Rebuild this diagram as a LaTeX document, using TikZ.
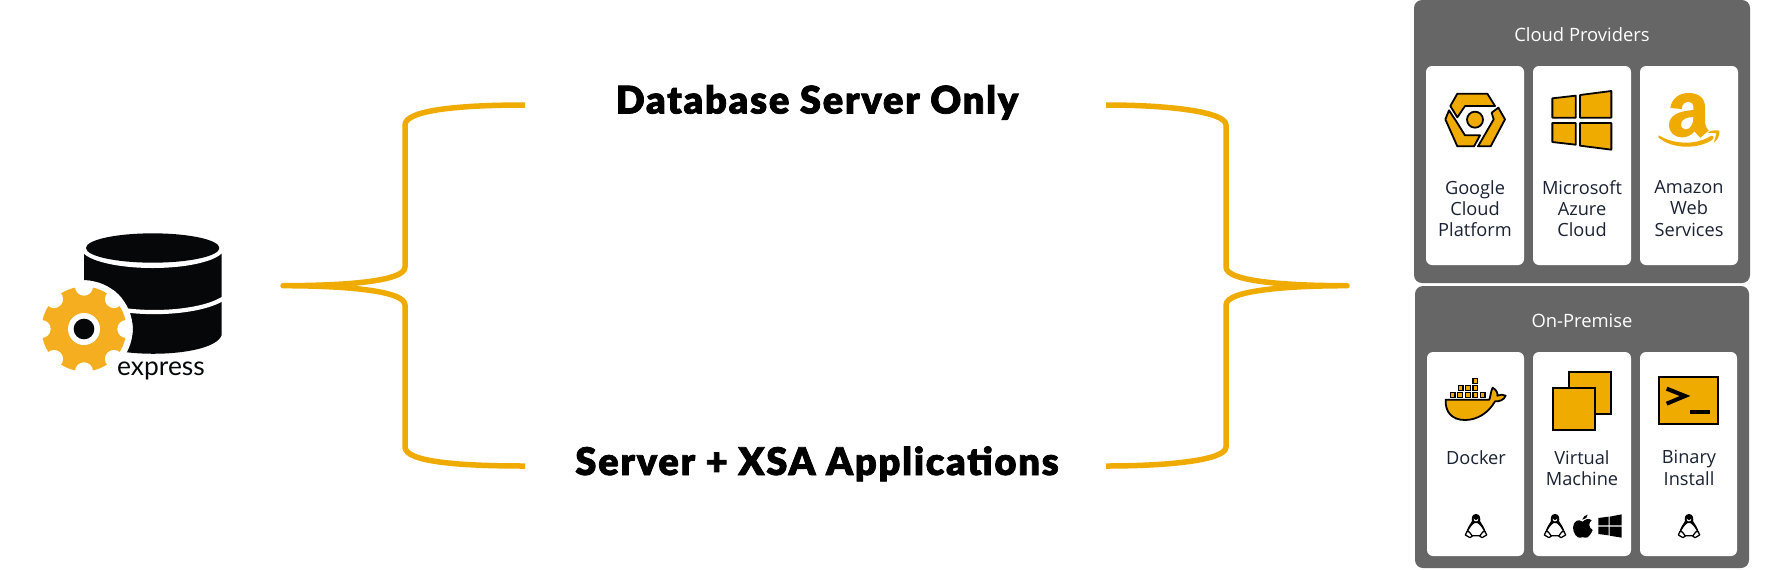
\documentclass[tikz,border=0pt]{standalone}
\usepackage{fontspec}
\setmainfont{Open Sans}
\newfontfamily\heavy[FakeBold=2,LetterSpace=4.7]{Lato Black}
\newfontfamily\logofont{Lato}
\definecolor{sapgold}{HTML}{F0AB00}
\definecolor{gearorange}{HTML}{F5AE20}
\definecolor{panelgrey}{HTML}{666666}
\definecolor{inkblack}{HTML}{050708}
\definecolor{labelink}{HTML}{1A2233}
\tikzset{
  x=0.5pt,y=-0.5pt,
  bracestroke/.style={draw=sapgold,line width=2.75pt,line join=round,line cap=butt},
  panel/.style={fill=panelgrey,rounded corners=4pt},
  card/.style={fill=white,rounded corners=3pt},
  paneltitle/.style={text=white,font=\fontsize{9.2}{11}\selectfont,anchor=center,inner sep=0pt},
  cardlabel/.style={text=labelink,font=\fontsize{9.1}{10.65}\selectfont,align=center,anchor=north,inner sep=0pt},
  headline/.style={font=\heavy\fontsize{19}{22}\selectfont,anchor=base,inner sep=0pt,text=black},
  goldicon/.style={fill=sapgold,draw=black,line width=0.9pt,line join=round},
  zoomA/.style={shift={(1400,0)},x=0.16667pt,y=-0.16667pt},
  zoomB/.style={shift={(1400,285)},x=0.16667pt,y=-0.16667pt},
  zoomC/.style={shift={(30,220)},x=0.16667pt,y=-0.16667pt},
  mini/.style={x=0.16667pt,y=-0.16667pt},
}
\newcommand{\tux}[2]{%
\begin{scope}[shift={(#1,#2)},mini]
  \fill[white,draw=black,line width=0.65pt,line join=round]
    (-10,-14) .. controls (-22,5) and (-32,18) .. (-24,29) -- (24,29)
    .. controls (32,18) and (22,5) .. (10,-14) -- cycle;
  \fill[black] (0,-36) .. controls (-13,-36) and (-14,-22) .. (-12,-12)
    .. controls (-20,-2) and (-27,8) .. (-25,18) .. controls (-19,6) and (-12,-4) .. (-4,-9)
    -- (4,-9) .. controls (12,-4) and (19,6) .. (25,18) .. controls (27,8) and (20,-2) .. (12,-12)
    .. controls (14,-22) and (13,-36) .. (0,-36) -- cycle;
  \fill[white] (-7,-22) .. controls (-3,-15) and (3,-15) .. (7,-22) .. controls (7,-11) and (-7,-11) .. (-7,-22) -- cycle;
  \fill[white,draw=black,line width=0.65pt,line join=round]
    (-32,27) -- (-27,16) -- (-20,18) -- (-11,30) -- (-18,35) -- cycle;
  \fill[white,draw=black,line width=0.65pt,line join=round]
    (32,27) -- (27,16) -- (20,18) -- (11,30) -- (18,35) -- cycle;
\end{scope}}
\begin{document}
\begin{tikzpicture}
\useasboundingbox (0,0) rectangle (1790,569);
\fill[white] (0,0) rectangle (1790,569);

% --- express database icon
\begin{scope}[zoomC]
  \fill[inkblack] (162,95) -- (162,345) .. controls (190,420) and (550,420) .. (575,345) -- (575,95) -- cycle;
  \fill[white] (368,84) ellipse[x radius=215,y radius=60];
  \fill[inkblack] (368,84) ellipse[x radius=200,y radius=44];
  \draw[white,line width=2.1pt] (150,225) .. controls (230,292) and (500,292) .. (585,232);
  \fill[white] (162,327) circle[radius=146];
  \fill[gearorange] (162,327) circle[radius=127];
  \begin{scope}
    \clip (162,327) circle[radius=146];
    \foreach \a in {0,45,...,315}
      \fill[white] (162,327) ++(\a:127) circle[radius=27];
  \end{scope}
  \fill[white] (162,327) circle[radius=48];
  \fill[inkblack] (162,327) circle[radius=31];
\end{scope}
\node[font=\logofont\fontsize{13.2}{15}\selectfont,text=inkblack,anchor=base,inner sep=0pt] (expresslabel) at (161,375) {express};

% --- headlines
\node[headline] (dbonly) at (817,113.5) {Database Server Only};
\node[headline] (xsa) at (817,475) {Server + XSA Applications};

% --- braces
\coordinate (ltip) at (283,285.7);
\coordinate (lhi) at (525,105);
\coordinate (llo) at (525,466);
\coordinate (rtip) at (1347,285.7);
\coordinate (rhi) at (1106,105);
\coordinate (rlo) at (1106,466);
\draw[bracestroke] (lhi) .. controls (460,105) and (405,110) .. (405,125)
  -- (405,267) .. controls (405,282) and (340,285.7) .. (ltip)
  .. controls (340,285.7) and (405,290) .. (405,305)
  -- (405,447) .. controls (405,462) and (460,466) .. (llo);
\draw[bracestroke] (rhi) .. controls (1170,105) and (1226,112) .. (1226,125)
  -- (1226,267) .. controls (1226,282) and (1290,285.7) .. (rtip)
  .. controls (1290,285.7) and (1226,290) .. (1226,305)
  -- (1226,447) .. controls (1226,460) and (1170,466) .. (rlo);

% --- panels
\fill[panel] (1414,0) rectangle (1750,283);
\fill[panel] (1415,286) rectangle (1749,568);
\fill[card] (1426,66) rectangle (1524,265);
\fill[card] (1533,66) rectangle (1631,265);
\fill[card] (1640,66) rectangle (1738,265);
\fill[card] (1427,352) rectangle (1524,556);
\fill[card] (1533,352) rectangle (1631,556);
\fill[card] (1640,352) rectangle (1737,556);
\node[paneltitle] (cloudtitle) at (1582,34.5) {Cloud Providers};
\node[paneltitle] (premtitle) at (1582,320.5) {On-Premise};
\node[cardlabel] (gcp) at (1475,180) {Google\\Cloud\\Platform};
\node[cardlabel] (azure) at (1582,180) {Microsoft\\Azure\\Cloud};
\node[cardlabel] (aws) at (1689,180) {Amazon\\Web\\Services};
\node[cardlabel] (docker) at (1476,450) {Docker};
\node[cardlabel] (vm) at (1582,450) {Virtual\\Machine};
\node[cardlabel] (binary) at (1689,450) {Binary\\Install};

% --- Google Cloud icon
\begin{scope}[zoomA]
  \path[goldicon] (172,281) -- (262,281) -- (285,318) -- (195,318) -- (172,352) -- (151,318) -- cycle;
  \path[goldicon] (136,358) -- (147,331) -- (170,366) -- (195,406) -- (240,406) -- (222,439) -- (172,439) -- cycle;
  \path[goldicon] (295,323) -- (315,358) -- (272,439) -- (234,439) -- (281,358) -- (275,338) -- cycle;
  \path[fill=sapgold,draw=black,line width=0.9pt] (225,359) circle[radius=24];
% --- Windows icon
  \path[goldicon] (457,295) -- (527,287) -- (527,353) -- (457,353) -- cycle;
  \path[goldicon] (540,285) -- (634,273) -- (634,353) -- (540,353) -- cycle;
  \path[goldicon] (457,369) -- (527,369) -- (527,434) -- (457,426) -- cycle;
  \path[goldicon] (540,369) -- (634,369) -- (634,449) -- (540,437) -- cycle;
% --- Amazon icon
  \fill[sapgold,even odd rule]
    (811,324) .. controls (815,295) and (838,279) .. (866,279)
    .. controls (895,279) and (915,293) .. (915,322)
    -- (915,368) .. controls (915,378) and (920,384) .. (926,392)
    -- (901,413) .. controls (893,407) and (889,401) .. (884,394)
    .. controls (872,407) and (860,412) .. (846,412)
    .. controls (824,412) and (807,398) .. (807,375)
    .. controls (807,345) and (838,333) .. (880,330)
    -- (880,320) .. controls (880,310) and (872,305) .. (863,305)
    .. controls (854,305) and (847,312) .. (845,327) -- cycle
    (880,351) .. controls (858,352) and (843,358) .. (843,373)
    .. controls (843,383) and (849,388) .. (857,388)
    .. controls (870,388) and (880,375) .. (880,351) -- cycle;
  \fill[sapgold] (776,406) .. controls (830,438) and (895,432) .. (932,408)
     .. controls (940,404) and (944,415) .. (936,420)
     .. controls (890,449) and (815,447) .. (775,412) -- cycle;
  \fill[sapgold] (922,398) .. controls (935,390) and (952,389) .. (958,393)
     .. controls (960,405) and (952,420) .. (942,428)
     .. controls (944,416) and (948,407) .. (949,400)
     .. controls (942,398) and (932,399) .. (922,398) -- cycle;
\end{scope}

% --- Docker, VM, terminal icons
\begin{scope}[zoomB]
  \path[goldicon] (137,344) -- (268,344) .. controls (272,332) and (272,320) .. (278,308)
     .. controls (290,315) and (294,326) .. (292,332) .. controls (300,328) and (310,328) .. (317,332)
     .. controls (312,345) and (298,350) .. (285,349)
     .. controls (265,385) and (230,405) .. (195,405)
     .. controls (155,405) and (135,380) .. (137,344) -- cycle;
  \foreach \bx/\by in {158/330,180/330,204/330,226/330,248/330,182/309,204/309,226/309,226/288}
    \path[fill=sapgold,draw=black,line width=0.6pt] (\bx-7,\by-7) rectangle (\bx+7,\by+7);
  \path[fill=sapgold,draw=black,line width=0.9pt] (506,260) rectangle (633,386);
  \path[fill=sapgold,draw=black,line width=0.9pt] (460,310) rectangle (586,436);
  \path[fill=sapgold,draw=black,line width=0.9pt] (776,277) rectangle (954,417);
  \draw[black,line width=2pt,line join=miter] (800,311) -- (855,333) -- (800,356);
  \fill[black] (870,376) rectangle (930,388);
\end{scope}

% --- OS icons
\tux{1476}{526}
\tux{1555}{526}
\tux{1689}{526}
\begin{scope}[zoomB]
  \fill[black] (548,710) .. controls (535,700) and (520,708) .. (519,728)
    .. controls (519,745) and (532,760) .. (540,758)
    .. controls (545,756) and (551,756) .. (556,758)
    .. controls (565,760) and (574,745) .. (578,735)
    .. controls (565,728) and (565,712) .. (575,706)
    .. controls (566,698) and (555,703) .. (548,710) -- cycle;
  \fill[black] (547,704) .. controls (548,696) and (555,690) .. (563,689) .. controls (563,697) and (556,703) .. (547,704) -- cycle;
  \fill[black] (595,699) -- (626,695) -- (626,721) -- (595,721) -- cycle;
  \fill[black] (629,695) -- (665,688) -- (665,721) -- (629,721) -- cycle;
  \fill[black] (595,725) -- (626,725) -- (626,751) -- (595,747) -- cycle;
  \fill[black] (629,725) -- (665,725) -- (665,758) -- (629,752) -- cycle;
\end{scope}
\end{tikzpicture}
\end{document}
